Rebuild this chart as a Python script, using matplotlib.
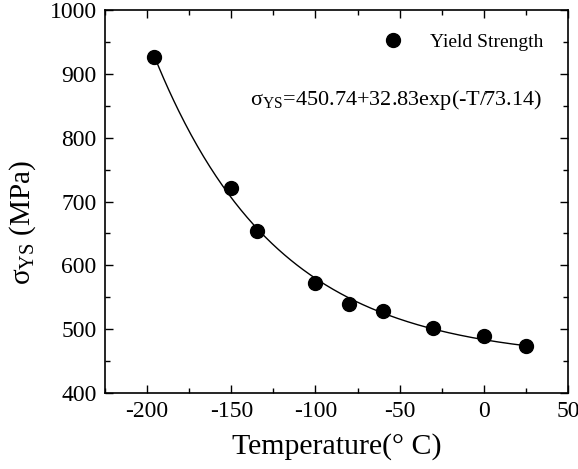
import numpy as np
import matplotlib.pyplot as plt
from matplotlib.ticker import MultipleLocator

plt.rcParams['font.family'] = ['Liberation Serif', 'DejaVu Serif']
plt.rcParams['mathtext.fontset'] = 'custom'
plt.rcParams['mathtext.rm'] = 'Liberation Serif'
plt.rcParams['mathtext.it'] = 'Liberation Serif:italic'
plt.rcParams['axes.unicode_minus'] = False

# measured yield strength
temp = [-196, -150, -135, -100, -80, -60, -30, 0, 25]
ys = [926, 721, 654, 573, 540, 528, 502, 490, 473]

# fit: sigma = a + b*exp(-T/c)
a, b, c = 450.74, 32.83, 73.14

fig = plt.figure(figsize=(5.78, 4.69), dpi=100)
ax = fig.add_axes([105/578, 1-393/469, 463/578, 383/469])

t = np.linspace(min(temp), max(temp), 300)
ax.plot(t, a + b*np.exp(-t/c), color='black', lw=1.0)
ax.plot(temp, ys, 'o', color='black', ms=10, label='Yield Strength')

ax.set_xlim(-225, 50)
ax.set_ylim(400, 1000)
ax.xaxis.set_major_locator(MultipleLocator(50))
ax.xaxis.set_minor_locator(MultipleLocator(25))
ax.yaxis.set_major_locator(MultipleLocator(100))
ax.yaxis.set_minor_locator(MultipleLocator(50))
ax.tick_params(which='both', direction='in', top=True, right=True, labelsize=17, width=1)
ax.tick_params(which='major', length=6, pad=6)
ax.tick_params(which='minor', length=3.5)
for s in ax.spines.values():
    s.set_linewidth(1.2)

ax.set_xlabel('Temperature(° C)', fontsize=21.5, labelpad=8)
ax.set_ylabel('σ$_{\\mathrm{YS}}$ (MPa)', fontsize=21, labelpad=8, y=0.445)

ax.legend(loc='upper right', frameon=False, fontsize=14, handletextpad=0.9,
          bbox_to_anchor=(0.985, 0.985))
ax.text(0.313, 0.765, 'σ$_{\\mathrm{YS}}$=450.74+32.83exp(-T/73.14)',
        transform=ax.transAxes, fontsize=16, va='center')

fig.savefig('out.png', dpi=100)
